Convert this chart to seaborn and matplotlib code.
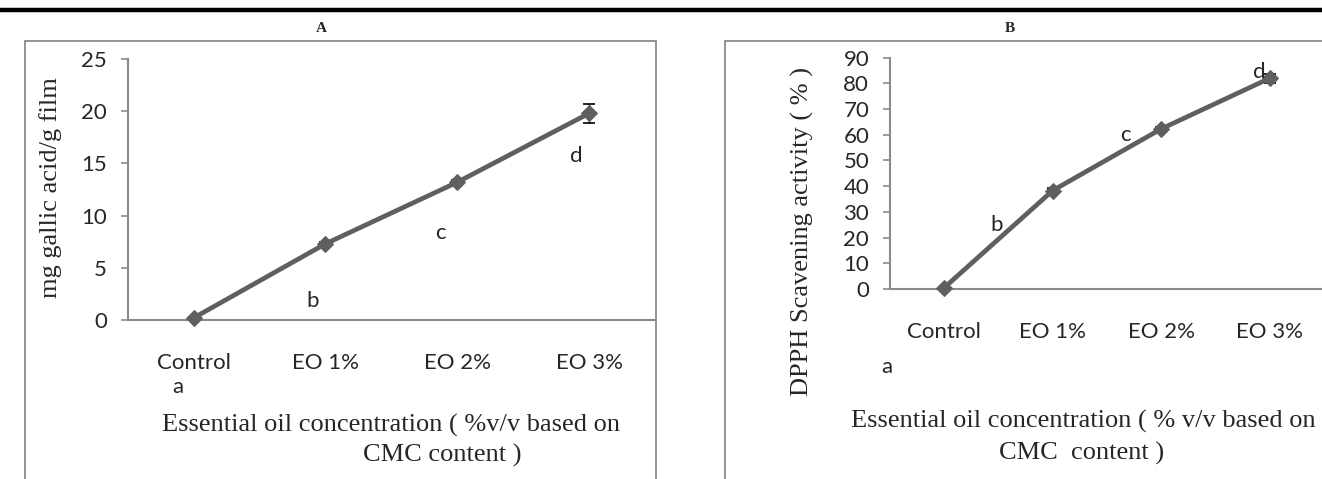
import seaborn as sns
import pandas as pd
import numpy as np
import matplotlib
matplotlib.use('Agg')
import matplotlib.pyplot as plt
from matplotlib.patches import Rectangle
from matplotlib.lines import Line2D

# data
categories = ['Control', 'EO 1%', 'EO 2%', 'EO 3%']
phenol_values = [0.2, 7.3, 13.2, 19.8]
phenol_errors = [0.1, 0.2, 0.2, 0.9]
dpph_values = [0.5, 38.3, 62.3, 82.0]
dpph_errors = [0.3, 0.8, 0.8, 1.8]
letters = ['a', 'b', 'c', 'd']

sns.set_style('white')
plt.rcParams['font.family'] = ['Lato', 'DejaVu Sans']

LINE = '#5f5f5f'
AXIS = '#8a8a8a'
SERIF = 'Liberation Serif'


def draw_panel(ax, values, errors, ymax, ystep, letter_pos):
    x = np.arange(len(categories))
    df = pd.DataFrame({'x': x, 'y': values})
    sns.lineplot(data=df, x='x', y='y', ax=ax, color=LINE, linewidth=3.4,
                 marker='D', markersize=8.5, markeredgecolor=LINE, legend=False,
                 clip_on=False, zorder=3)
    ax.errorbar(x, values, yerr=errors, fmt='none', ecolor='black',
                elinewidth=1, capsize=4, capthick=1.2, zorder=2)
    ax.set_xlim(-0.5, len(categories) - 0.5)
    ax.set_ylim(0, ymax)
    ax.set_yticks(np.arange(0, ymax + 1, ystep))
    ax.set_xticks(x)
    ax.set_xticklabels(categories)
    ax.set_xticks(np.arange(len(categories) + 1) - 0.5, minor=True)
    ax.tick_params(axis='x', which='major', length=0, pad=24, labelsize=16)
    ax.tick_params(axis='x', which='minor', length=6.5, width=1.2, color=AXIS)
    ax.tick_params(axis='y', length=5, width=1.2, color=AXIS, pad=10, labelsize=16,
                   left=True)
    for s in ['top', 'right']:
        ax.spines[s].set_visible(False)
    for s in ['left', 'bottom']:
        ax.spines[s].set_color(AXIS)
        ax.spines[s].set_linewidth(1.5)
    ax.set_xlabel('')
    ax.set_ylabel('')
    for lab, (lx, ly) in zip(letters, letter_pos):
        ax.text(lx, ly, lab, fontsize=16, ha='center', va='center', clip_on=False)


fig = plt.figure(figsize=(13.22, 4.79), dpi=100)

axA = fig.add_axes([0.0966, 0.3319, 0.3989, 0.5449])
draw_panel(axA, phenol_values, phenol_errors, 25, 5,
           [(-0.12, -6.4), (0.9, 1.8), (1.87, 8.3), (2.9, 15.7)])

axB = fig.add_axes([0.6732, 0.3967, 0.3283, 0.4829])
draw_panel(axB, dpph_values, dpph_errors, 90, 10,
           [(-0.53, -30.5), (0.48, 25.0), (1.67, 60.0), (2.9, 84.5)])

# panel frames and top rule
fig.patches.append(Rectangle((25 / 1322, -0.05), (656 - 25) / 1322, 1.05 - 40.7 / 479,
                             transform=fig.transFigure, fill=False,
                             edgecolor=AXIS, linewidth=1.3))
fig.patches.append(Rectangle((725 / 1322, -0.05), 0.5, 1.05 - 40.7 / 479,
                             transform=fig.transFigure, fill=False,
                             edgecolor=AXIS, linewidth=1.3))
fig.add_artist(Line2D([0, 1], [1 - 10 / 479] * 2, transform=fig.transFigure,
                      color='black', linewidth=3.2))

fig.text(321 / 1322, 1 - 29 / 479, 'A', family=SERIF, weight='bold', fontsize=11,
         ha='center', va='center')
fig.text(1010 / 1322, 1 - 29 / 479, 'B', family=SERIF, weight='bold', fontsize=11,
         ha='center', va='center')

fig.text(51 / 1322, 1 - 188 / 479, 'mg gallic acid/g film', family=SERIF,
         fontsize=19, rotation=90, ha='center', va='center')
fig.text(802 / 1322, 1 - 231.7 / 479, 'DPPH Scavening activity ( % )', family=SERIF,
         fontsize=19, rotation=90, ha='center', va='center')

fig.text(391.5 / 1322, 1 - 425 / 479, 'Essential oil concentration ( %v/v based on',
         family=SERIF, fontsize=19, ha='center', va='center')
fig.text(442 / 1322, 1 - 455 / 479, 'CMC content )',
         family=SERIF, fontsize=19, ha='center', va='center')
fig.text(1083 / 1322, 1 - 421.7 / 479, 'Essential oil concentration ( % v/v based on',
         family=SERIF, fontsize=19, ha='center', va='center')
fig.text(1082 / 1322, 1 - 453 / 479, 'CMC  content )',
         family=SERIF, fontsize=19, ha='center', va='center')

fig.savefig('out.png', dpi=100)
